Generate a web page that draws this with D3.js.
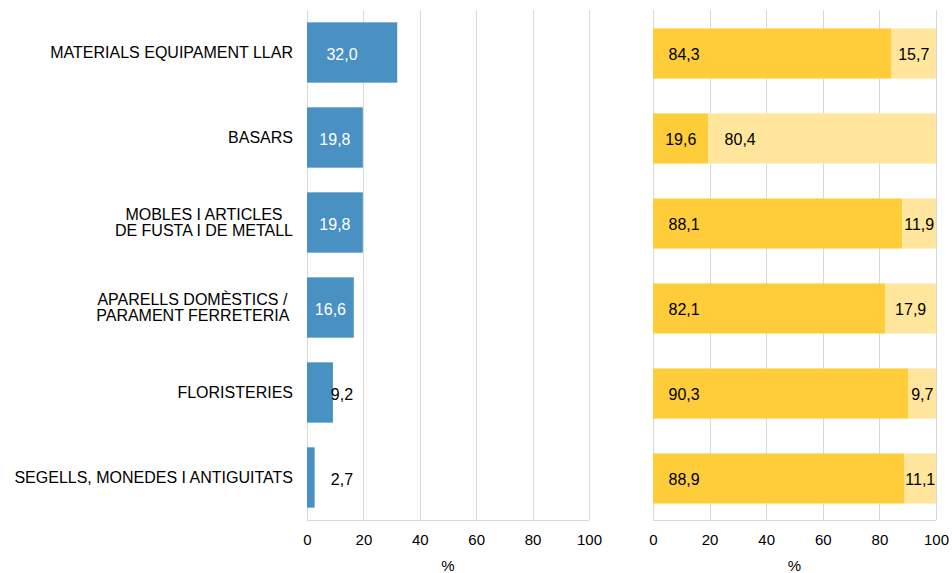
<!DOCTYPE html>
<html>
<head>
<meta charset="utf-8">
<script src="https://cdn.jsdelivr.net/npm/d3@7"></script>
<style>
  html, body { margin: 0; padding: 0; background: #fff; }
  svg { display: block; font-family: "Liberation Sans", Arial, sans-serif; }
</style>
</head>
<body>
<svg id="chart" width="952" height="573"></svg>
<script>
// ---- data ----
const categories = [
  ["MATERIALS EQUIPAMENT LLAR"],
  ["BASARS"],
  ["MOBLES I ARTICLES", "DE FUSTA I DE METALL"],
  ["APARELLS DOMÈSTICS / ", "PARAMENT FERRETERIA "],
  ["FLORISTERIES"],
  ["SEGELLS, MONEDES I ANTIGUITATS"]
];
const shareValues = [32.0, 19.8, 19.8, 16.6, 9.2, 2.7];
const seriesA = [84.3, 19.6, 88.1, 82.1, 90.3, 88.9];
const seriesB = [15.7, 80.4, 11.9, 17.9, 9.7, 11.1];
const tickValues = [0, 20, 40, 60, 80, 100];
const axisTitle = "%";

// ---- setup ----
const svg = d3.select("#chart");
const fmt = v => d3.format(".1f")(v).replace(".", ",");
const keys = categories.map((c, i) => "c" + i);

const plotTop = 10, plotBottom = 520;
const yL = d3.scaleBand().domain(keys).range([plotTop, plotBottom]).paddingInner(0.29).paddingOuter(0.145);
const yR = d3.scaleBand().domain(keys).range([plotTop + 1, plotBottom + 1]).paddingInner(0.41).paddingOuter(0.205);
const xL = d3.scaleLinear().domain([0, 100]).range([307, 589]);
const xR = d3.scaleLinear().domain([0, 100]).range([653, 936]);

const gridColor = "#d9d9d9";
const blue = "#4a91c3", gold = "#ffcd3a", lightGold = "#ffe69c";

function drawFrame(x) {
  const g = svg.append("g");
  g.selectAll("line.grid").data(tickValues).join("line")
    .attr("x1", d => Math.round(x(d)) + 0.5).attr("x2", d => Math.round(x(d)) + 0.5)
    .attr("y1", plotTop).attr("y2", plotBottom)
    .attr("stroke", gridColor).attr("stroke-width", 1);
  g.append("line")
    .attr("x1", x(0)).attr("x2", x(100))
    .attr("y1", plotBottom + 0.5).attr("y2", plotBottom + 0.5)
    .attr("stroke", gridColor);
  const axis = d3.axisBottom(x).tickValues(tickValues).tickSize(0).tickPadding(0).tickFormat(d3.format("d"));
  const ag = svg.append("g").attr("transform", `translate(0,${plotBottom})`).call(axis);
  ag.select(".domain").remove();
  ag.selectAll("text").attr("font-size", 15).attr("fill", "#000")
    .attr("font-family", "Liberation Sans, Arial, sans-serif")
    .attr("dy", null).attr("y", 25);
  svg.append("text").attr("x", (x(0) + x(100)) / 2).attr("y", 571)
    .attr("text-anchor", "middle").attr("font-size", 15).attr("fill", "#000").text(axisTitle);
}

drawFrame(xL);
drawFrame(xR);

// ---- left chart ----
svg.append("g").selectAll("rect").data(shareValues).join("rect")
  .attr("x", xL(0)).attr("y", (d, i) => yL(keys[i]))
  .attr("width", d => xL(d) - xL(0)).attr("height", yL.bandwidth())
  .attr("fill", blue);

const capUnits = 12.4;
svg.append("g").selectAll("text").data(shareValues).join("text")
  .attr("x", d => d >= 15 ? Math.min(xL(d / 2), xL(capUnits)) : xL(capUnits))
  .attr("y", (d, i) => yL(keys[i]) + yL.bandwidth() / 2 + 7)
  .attr("text-anchor", "middle").attr("font-size", 16)
  .attr("fill", d => d >= 15 ? "#fff" : "#000")
  .text(d => fmt(d));

// ---- category labels ----
const labelG = svg.append("g");
categories.forEach((lines, i) => {
  const cy = yL(keys[i]) + yL.bandwidth() / 2;
  const t = labelG.append("text").attr("font-size", 16).attr("fill", "#000")
    .style("white-space", "pre").attr("text-anchor", "middle");
  const n = lines.length;
  const lh = 15.7;
  lines.forEach((ln, j) => {
    t.append("tspan").attr("y", cy + 5.8 + (j - (n - 1) / 2) * lh).text(ln);
  });
  let maxW = 0;
  t.selectAll("tspan").each(function() { maxW = Math.max(maxW, this.getComputedTextLength()); });
  t.selectAll("tspan").attr("x", 293 - maxW / 2);
});

// ---- right chart ----
const rows = seriesA.map((a, i) => ({ key: keys[i], a, b: seriesB[i] }));
const rg = svg.append("g");
rg.selectAll("rect.a").data(rows).join("rect")
  .attr("class", "a")
  .attr("x", xR(0)).attr("y", d => yR(d.key))
  .attr("width", d => xR(d.a) - xR(0)).attr("height", yR.bandwidth())
  .attr("fill", gold);
rg.selectAll("rect.b").data(rows).join("rect")
  .attr("class", "b")
  .attr("x", d => xR(d.a)).attr("y", d => yR(d.key))
  .attr("width", d => xR(d.a + d.b) - xR(d.a)).attr("height", yR.bandwidth())
  .attr("fill", lightGold);

const capR = 11;
rg.selectAll("text.a").data(rows).join("text")
  .attr("class", "a")
  .attr("x", d => xR(Math.min(d.a / 2, capR)))
  .attr("y", d => yL(d.key) + yL.bandwidth() / 2 + 7)
  .attr("text-anchor", "middle").attr("font-size", 16).attr("fill", "#000")
  .text(d => fmt(d.a));
rg.selectAll("text.b").data(rows).join("text")
  .attr("class", "b")
  .attr("x", d => xR(d.a + Math.min(d.b / 2, capR + 0.2)))
  .attr("y", d => yL(d.key) + yL.bandwidth() / 2 + 7)
  .attr("text-anchor", "middle").attr("font-size", 16).attr("fill", "#000")
  .text(d => fmt(d.b));
</script>
</body>
</html>
